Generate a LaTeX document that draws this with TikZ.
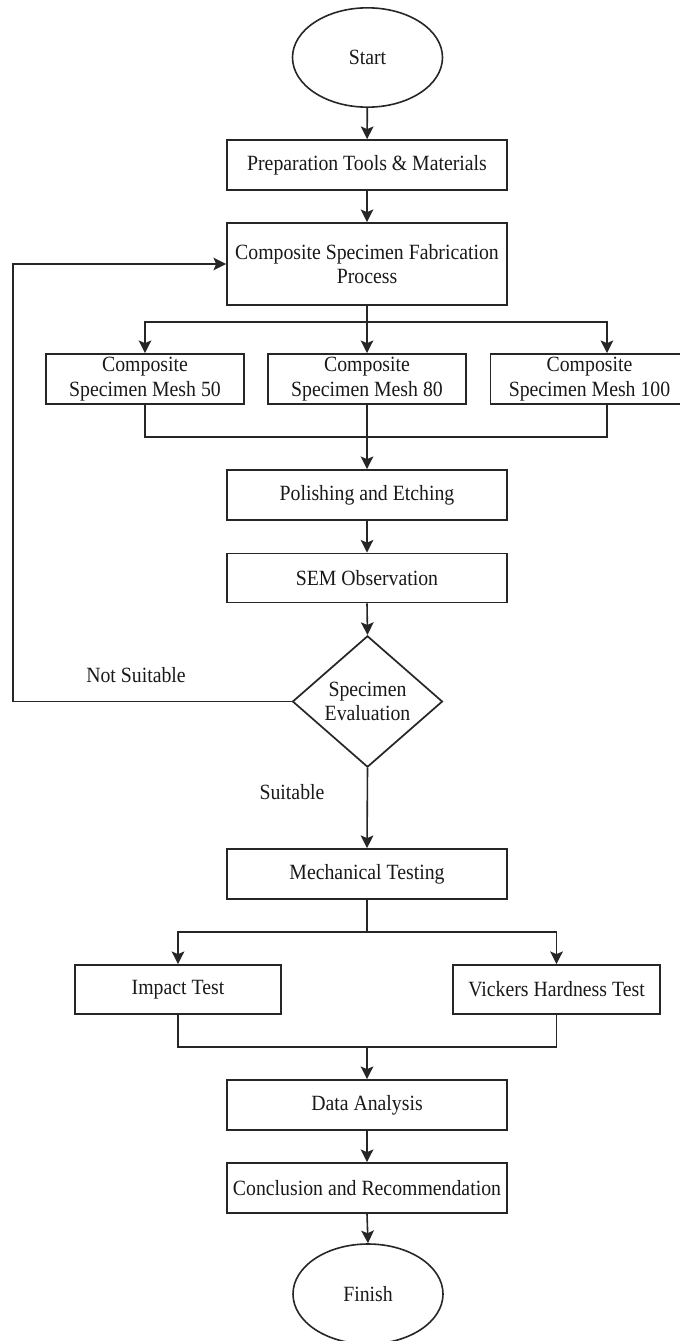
\documentclass[tikz,border=0pt]{standalone}
\usepackage{fontspec}
\setmainfont{Liberation Serif}[FakeStretch=0.91]
\usetikzlibrary{shapes.geometric,arrows.meta}
\begin{document}
\begin{tikzpicture}[x=0.75pt,y=-0.75pt,
  every node/.style={font=\fontsize{16.3pt}{18.5pt}\selectfont, text=black!90},
  procbox/.style={draw=black!85, line width=1.3pt, rectangle, inner sep=1pt, minimum height=37.5pt, align=center},
  mainbox/.style={procbox, minimum width=210pt},
  meshbox/.style={procbox, minimum width=148.5pt},
  testbox/.style={procbox, minimum width=155pt, minimum height=36.75pt},
  term/.style={draw=black!85, line width=1.2pt, ellipse, minimum width=112.5pt, minimum height=74.5pt, inner sep=0pt},
  decide/.style={draw=black!85, line width=1.3pt, diamond, minimum width=112.5pt, minimum height=98.5pt, inner sep=0pt, align=center},
  lab/.style={inner sep=0pt},
  conn/.style={draw=black!85, line width=1.2pt},
  arr/.style={conn, -{Stealth[length=9.5pt,width=9.5pt,inset=2pt]}}
]
\useasboundingbox (0,0) rectangle (680,1341);
\clip (0,0) rectangle (680,1341);

\node[term] (start) at (367.5,57.5) {Start};
\node[mainbox] (prep) at (367,165) {Preparation Tools \& Materials};
\node[mainbox, minimum height=61.5pt] (fab) at (367,264) {Composite Specimen Fabrication\\Process};
\node[meshbox] (m50) at (145,379) {Composite\\Specimen Mesh 50};
\node[meshbox] (m80) at (367,379) {Composite\\Specimen Mesh 80};
\node[meshbox] (m100) at (589.5,379) {Composite\\Specimen Mesh 100};
\node[mainbox] (pol) at (367,495) {Polishing and Etching};
\node[mainbox, minimum height=36.75pt] (sem) at (367,578) {SEM Observation};
\node[decide] (eval) at (367.5,701.5) {Specimen\\Evaluation};
\node[mainbox] (mech) at (367,874) {Mechanical Testing};
\node[testbox] (imp) at (178,989.5) {Impact Test};
\node[testbox] (vic) at (556.5,989.5) {Vickers Hardness Test};
\node[mainbox] (data) at (367,1105) {Data Analysis};
\node[mainbox] (conc) at (367,1188) {Conclusion and Recommendation};
\node[term, minimum height=75pt] (finish) at (368,1294) {Finish};

\node[lab] (ns) at (136,675) {Not Suitable};
\node[lab] (su) at (292,792) {Suitable};

\coordinate (b1) at (367,322);
\coordinate (j1) at (367,437);
\coordinate (lp) at (13,701.5);
\coordinate (j2) at (367,932);
\coordinate (j3) at (367,1047);

\draw[arr] (start) -- (prep);
\draw[arr] (prep) -- (fab);
\draw[arr] (fab.south) -- (m80.north);
\draw[arr] (b1) -| (m50.north);
\draw[arr] (b1) -| ([xshift=13.1pt]m100.north);
\draw[conn] (m50.south) |- (j1) -| ([xshift=13.1pt]m100.south);
\draw[arr] (m80.south) -- (pol.north);
\draw[arr] (pol) -- (sem);
\draw[arr] (sem.south) -- (eval.north);
\draw[arr] (eval.west) -- (lp) |- (fab.west);
\draw[arr] (eval.south) -- (mech.north);
\draw[conn] (mech.south) -- (j2);
\draw[arr] (j2) -| (imp.north);
\draw[arr] (j2) -| (vic.north);
\draw[conn] (imp.south) |- (j3) -| (vic.south);
\draw[arr] (j3) -- (data.north);
\draw[arr] (data) -- (conc);
\draw[arr] (conc.south) -- (finish.north);
\end{tikzpicture}
\end{document}
